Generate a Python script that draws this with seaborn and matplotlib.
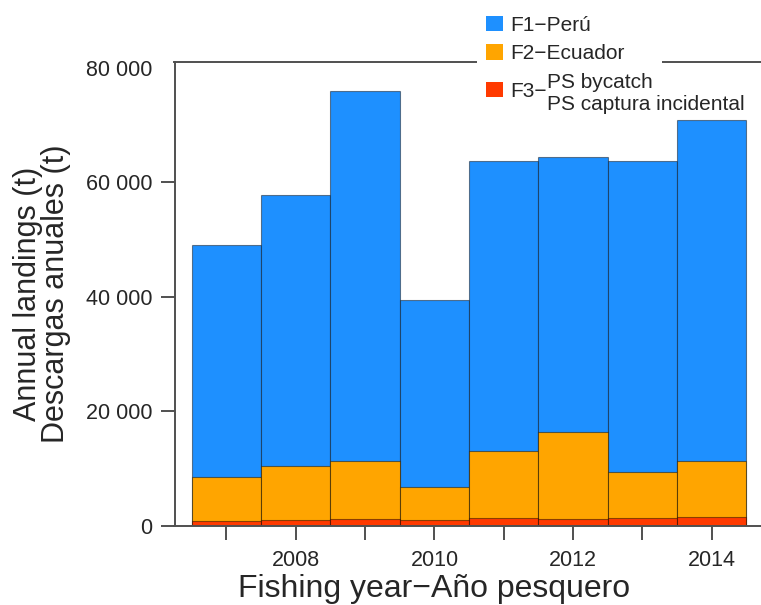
import matplotlib
matplotlib.use("Agg")
import matplotlib.pyplot as plt
import seaborn as sns
import pandas as pd
from matplotlib.patches import Rectangle, Patch
from matplotlib.ticker import FuncFormatter

# ---- data (tonnes) ----
years = [2007, 2008, 2009, 2010, 2011, 2012, 2013, 2014]
f1_peru = [40600, 47400, 64500, 32600, 50700, 48000, 54400, 59600]
f2_ecuador = [7570, 9300, 10230, 5700, 11700, 15230, 7950, 9800]
f3_ps_bycatch = [930, 1100, 1170, 1100, 1400, 1170, 1450, 1600]
y_ticks = [0, 20000, 40000, 60000, 80000]

col_f1 = "#1E90FF"
col_f2 = "#FFA500"
col_f3 = "#FF3A00"

sns.set_theme(style="white")
plt.rcParams['font.family'] = ['Liberation Sans', 'DejaVu Sans']

df = pd.DataFrame({"year": years, "f1": f1_peru, "f2": f2_ecuador, "f3": f3_ps_bycatch})
df["top_f3"] = df["f3"]
df["top_f2"] = df["f3"] + df["f2"]
df["top_f1"] = df["f3"] + df["f2"] + df["f1"]

W, H = 761, 605
fig = plt.figure(figsize=(W / 100, H / 100), dpi=100)
ax_l, ax_r, ax_t, ax_b = 174.5, 761, 61.7, 526
ax = fig.add_axes([ax_l / W, 1 - ax_b / H, (ax_r - ax_l) / W, (ax_b - ax_t) / H])

edge = (0, 0, 0, 0.45)
for col, c in [("top_f1", col_f1), ("top_f2", col_f2), ("top_f3", col_f3)]:
    sns.barplot(data=df, x="year", y=col, native_scale=True, width=1, orient="x",
                color=c, saturation=1, errorbar=None, edgecolor=edge, linewidth=0.8, ax=ax)

ax.set_xlim(2006.25, 2014.71)
ax.set_ylim(0, 81100)

ax.set_xticks(years)
ax.set_xticklabels([str(y) if y % 2 == 0 else "" for y in years])
ax.set_yticks(y_ticks)
ax.yaxis.set_major_formatter(FuncFormatter(lambda v, p: f"{int(v):,}".replace(",", " ")))
ax.tick_params(axis="both", direction="out", length=10, width=1.4, color="#505050",
               labelsize=15.5, labelcolor="#262626", left=True, bottom=True)
ax.tick_params(axis="y", pad=6)
ax.tick_params(axis="x", pad=7)
ax.yaxis.get_major_ticks()[-1].tick1line.set_visible(False)

for s in ["left", "bottom", "top"]:
    ax.spines[s].set_color("#505050")
    ax.spines[s].set_linewidth(1.4)
ax.spines["right"].set_visible(False)

ax.set_xlabel("Fishing year\u2212Año pesquero", fontsize=23, color="#262626", va="baseline")
ax.xaxis.set_label_coords((434 - ax_l) / (ax_r - ax_l), (ax_b - 597) / (ax_b - ax_t))
ax.set_ylabel("Annual landings (t)\nDescargas anuales (t)", fontsize=22, color="#262626",
              va="center", linespacing=0.92)
ax.yaxis.set_label_coords((42 - ax_l) / (ax_r - ax_l), (ax_b - 294) / (ax_b - ax_t))

# white break in the top line where the legend sits
fig.patches.append(Rectangle((476.7 / W, 1 - 75 / H), (661.7 - 476.7) / W, 75 / H,
                             transform=fig.transFigure, facecolor="white",
                             edgecolor="none", zorder=1))

leg_kw = dict(frameon=False, fontsize=15, borderpad=0, borderaxespad=0,
              handlelength=0.8, handleheight=0.75, handletextpad=0.35,
              labelspacing=0.45, labelcolor="#262626")
h1 = [Patch(facecolor=col_f1, edgecolor="none"), Patch(facecolor=col_f2, edgecolor="none")]
leg1 = fig.legend(h1, ["F1\u2212Perú", "F2\u2212Ecuador"], loc="upper left",
                  bbox_to_anchor=(486 / W, 1 - 16 / H), **leg_kw)
leg2 = fig.legend([Patch(facecolor=col_f3, edgecolor="none")], ["F3\u2212"], loc="upper left",
                  bbox_to_anchor=(486 / W, 1 - 82 / H), **leg_kw)
fig.text(547 / W, 1 - 82 / H, "PS bycatch", fontsize=15, color="#262626", ha="left", va="center")
fig.text(547 / W, 1 - 105 / H, "PS captura incidental", fontsize=15, color="#262626",
         ha="left", va="center")

fig.savefig("out.png", dpi=100)
